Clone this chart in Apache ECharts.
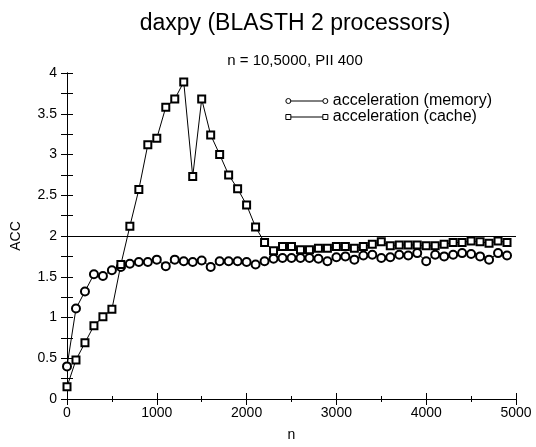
<!DOCTYPE html>
<html>
<head>
<meta charset="utf-8">
<script src="https://cdn.jsdelivr.net/npm/echarts@6/dist/echarts.min.js"></script>
<style>html,body{margin:0;padding:0;background:#fff}#c{width:536px;height:447px}</style>
</head>
<body>
<div id="c"></div>
<script>
var nValues = [0,100,200,300,400,500,600,700,800,900,1000,1100,1200,1300,1400,1500,1600,1700,1800,1900,2000,2100,2200,2300,2400,2500,2600,2700,2800,2900,3000,3100,3200,3300,3400,3500,3600,3700,3800,3900,4000,4100,4200,4300,4400,4500,4600,4700,4800,4900];
var memoryAcc = [0.40,1.11,1.32,1.53,1.51,1.58,1.62,1.66,1.68,1.68,1.71,1.63,1.71,1.69,1.68,1.70,1.62,1.69,1.69,1.69,1.68,1.65,1.69,1.72,1.73,1.73,1.73,1.73,1.72,1.69,1.74,1.75,1.71,1.76,1.77,1.73,1.74,1.77,1.76,1.79,1.69,1.77,1.75,1.77,1.79,1.78,1.75,1.71,1.79,1.76];
var cacheAcc = [0.15,0.48,0.69,0.90,1.01,1.10,1.65,2.12,2.57,3.12,3.20,3.58,3.68,3.89,2.73,3.68,3.24,3.00,2.75,2.58,2.38,2.11,1.92,1.82,1.87,1.87,1.83,1.83,1.85,1.85,1.87,1.87,1.85,1.87,1.90,1.93,1.88,1.89,1.89,1.89,1.88,1.88,1.90,1.92,1.92,1.94,1.93,1.91,1.94,1.92];
var referenceLevel = 2;
var seriesNames = ['acceleration (memory)', 'acceleration (cache)'];

function pairs(xs, ys){ return xs.map(function(x,i){ return [x, ys[i]]; }); }

var font = 'Liberation Sans, Arial, sans-serif';
var chart = echarts.init(document.getElementById('c'));
var circIcon = 'path://M2.5,0A2.5,2.5,0,1,1,2.5,5A2.5,2.5,0,1,1,2.5,0ZM5,2.5L37,2.5M39.5,0A2.5,2.5,0,1,1,39.5,5A2.5,2.5,0,1,1,39.5,0Z';
var rectIcon = 'path://M0,0L5,0L5,5L0,5ZM5,2.5L37,2.5M37,0L42,0L42,5L37,5Z';
var axisLine = {show:true, lineStyle:{color:'#000', width:1}};
function plain(v){ return String(v); }
chart.setOption({
  animation:false,
  backgroundColor:'#fff',
  title:[
    {text:'daxpy (BLASTH 2 processors)', left:290, textAlign:'center', top:7, textStyle:{fontFamily:font, fontSize:23, fontWeight:'normal', color:'#000'}},
    {text:'n = 10,5000, PII 400', left:290, textAlign:'center', top:48, textStyle:{fontFamily:font, fontSize:15, fontWeight:'normal', color:'#000'}}
  ],
  legend:{
    orient:'vertical', right:39, top:88, itemGap:0, itemWidth:42, itemHeight:5,
    textStyle:{fontFamily:font, fontSize:16, color:'#000', lineHeight:13},
    data:[
      {name:seriesNames[0], icon:circIcon, itemStyle:{color:'#fff', borderColor:'#000', borderWidth:1}},
      {name:seriesNames[1], icon:rectIcon, itemStyle:{color:'#fff', borderColor:'#000', borderWidth:1}}
    ]
  },
  grid:{left:67, right:20, top:73, bottom:40},
  xAxis:[
    {type:'value', min:0, max:5000, interval:1000, name:'n', nameLocation:'middle', nameGap:29,
     nameTextStyle:{fontFamily:font, fontSize:14, color:'#000'},
     axisLine:axisLine, splitLine:{show:false},
     axisTick:{inside:true, length:6, lineStyle:{color:'#000'}},
     minorTick:{show:true, splitNumber:2, length:3, lineStyle:{color:'#000'}},
     axisLabel:{fontFamily:font, fontSize:14, color:'#000', margin:7, formatter:plain}},
    {type:'value', position:'top', min:0, max:5000, interval:1000,
     axisLine:axisLine, splitLine:{show:false},
     axisTick:{inside:true, length:6, lineStyle:{color:'#000'}},
     minorTick:{show:true, splitNumber:2, length:3, lineStyle:{color:'#000'}},
     axisLabel:{show:false}}
  ],
  yAxis:[
    {type:'value', min:0, max:4, interval:0.5, name:'ACC', nameLocation:'middle', nameGap:44, nameRotate:90,
     nameTextStyle:{fontFamily:font, fontSize:14, color:'#000'},
     axisLine:axisLine, splitLine:{show:false},
     axisTick:{inside:true, length:6, lineStyle:{color:'#000'}},
     minorTick:{show:true, splitNumber:2, length:6, lineStyle:{color:'#000'}},
     axisLabel:{fontFamily:font, fontSize:14, color:'#000', margin:10, formatter:plain}},
    {type:'value', position:'right', min:0, max:4, interval:0.5,
     axisLine:axisLine, splitLine:{show:false},
     axisTick:{inside:true, length:6, lineStyle:{color:'#000'}},
     minorTick:{show:true, splitNumber:2, length:6, lineStyle:{color:'#000'}},
     axisLabel:{show:false}}
  ],
  series:[
    {name:seriesNames[0], type:'line', data:pairs(nValues, memoryAcc), symbol:'emptyCircle', symbolSize:8,
     lineStyle:{color:'#000', width:1}, itemStyle:{color:'#000', borderColor:'#000', borderWidth:1},
     markLine:{silent:true, symbol:'none', label:{show:false}, lineStyle:{color:'#000', width:1, type:'solid'},
       data:[{yAxis:referenceLevel}]}},
    {name:seriesNames[1], type:'line', data:pairs(nValues, cacheAcc), symbol:'emptyRect', symbolSize:7,
     lineStyle:{color:'#000', width:1}, itemStyle:{color:'#000', borderColor:'#000', borderWidth:1}}
  ]
});
</script>
</body>
</html>
